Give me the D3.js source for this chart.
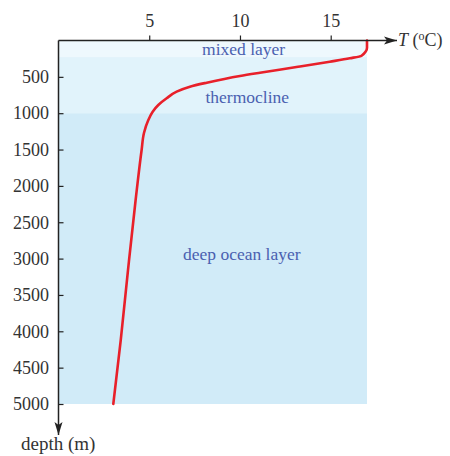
<!DOCTYPE html>
<html>
<head>
<meta charset="utf-8">
<script src="https://cdn.jsdelivr.net/npm/d3@7"></script>
<style>
  body { margin: 0; background: #fff; }
  text { font-family: "Liberation Serif", "Times New Roman", serif; }
</style>
</head>
<body>
<div id="chart"></div>
<script>
// temperature profile (°C vs depth in m)
const profileTemp  = [17.0, 17.0, 16.7, 16.05, 14.95, 13.2, 11.1, 10.0, 8.17, 7.24, 6.51, 5.96, 5.5, 5.19, 4.95, 4.71, 4.58, 4.25, 3.83, 3.43, 3.02];
const profileDepth = [0,    100,  209,  245,   292,   362,  443,  488,  580,  635,  704,  795,  887, 979,  1094, 1272, 1506, 2194, 3157, 4120, 5000];

// layers: [top depth, bottom depth]
const layerNames  = ["mixed layer", "thermocline", "deep ocean layer"];
const layerTop    = [0, 228, 1000];
const layerBottom = [228, 1000, 5000];
const layerLabelDepth = [115, 780, 2930];
const layerLabelTemp  = [10.2, 10.4, 10.1];

const tempTicks  = [5, 10, 15];
const depthTicks = [500, 1000, 1500, 2000, 2500, 3000, 3500, 4000, 4500, 5000];

const width = 450, height = 456;
const x = d3.scaleLinear().domain([0, 17]).range([58.5, 367]);
const y = d3.scaleLinear().domain([0, 5000]).range([40.5, 404]);

const svg = d3.select("#chart").append("svg")
    .attr("width", width)
    .attr("height", height);

const layerColors = ["#eef8fd", "#e1f3fb", "#d1ebf8"];

svg.selectAll("rect.layer")
    .data(layerNames)
    .enter()
    .append("rect")
    .attr("class", "layer")
    .attr("x", x(0))
    .attr("y", (d, i) => y(layerTop[i]))
    .attr("width", x(17) - x(0))
    .attr("height", (d, i) => y(layerBottom[i]) - y(layerTop[i]))
    .attr("fill", (d, i) => layerColors[i]);

svg.selectAll("text.layer")
    .data(layerNames)
    .enter()
    .append("text")
    .attr("class", "layer")
    .attr("x", (d, i) => x(layerLabelTemp[i]))
    .attr("y", (d, i) => y(layerLabelDepth[i]))
    .attr("dy", "0.35em")
    .attr("text-anchor", "middle")
    .attr("fill", "#4a60b0")
    .attr("font-size", 17.5)
    .text(d => d);

// temperature curve
const line = d3.line()
    .x(d => x(d[0]))
    .y(d => y(d[1]))
    .curve(d3.curveMonotoneY);

svg.append("path")
    .datum(profileTemp.map((t, i) => [t, profileDepth[i]]))
    .attr("d", line)
    .attr("fill", "none")
    .attr("stroke", "#e8202a")
    .attr("stroke-width", 2.6)
    .attr("stroke-linecap", "round");

// arrow markers
const defs = svg.append("defs");
defs.append("marker")
    .attr("id", "arrow")
    .attr("viewBox", "0 -5 13 10")
    .attr("refX", 13)
    .attr("refY", 0)
    .attr("markerWidth", 13)
    .attr("markerHeight", 10)
    .attr("markerUnits", "userSpaceOnUse")
    .attr("orient", "auto")
    .append("path")
    .attr("d", "M0,-4L13,0L0,4L3,0Z")
    .attr("fill", "#222");

// top axis
const xAxis = svg.append("g")
    .attr("transform", `translate(0,${y(0)})`)
    .call(d3.axisTop(x).tickValues(tempTicks).tickSize(5).tickSizeOuter(0).tickPadding(8.5));
xAxis.select(".domain").remove();
xAxis.selectAll("line").attr("stroke", "#222").attr("stroke-width", 1.2);
xAxis.selectAll("text").attr("font-size", 18).attr("fill", "#333")
    .style("font-family", "'Liberation Serif', serif");

svg.append("line")
    .attr("x1", x(0)).attr("y1", y(0))
    .attr("x2", 397).attr("y2", y(0))
    .attr("stroke", "#222")
    .attr("stroke-width", 1.5)
    .attr("marker-end", "url(#arrow)");

const tLabel = svg.append("text")
    .attr("x", 398)
    .attr("y", 46)
    .attr("font-size", 18)
    .attr("fill", "#333");
tLabel.append("tspan").attr("font-style", "italic").text("T");
tLabel.append("tspan").text(" (");
tLabel.append("tspan").attr("font-size", 12).attr("dy", -6).text("o");
tLabel.append("tspan").attr("dy", 6).text("C)");

// left axis
const yAxis = svg.append("g")
    .attr("transform", `translate(${x(0)},0)`)
    .call(d3.axisRight(y).tickValues(depthTicks).tickSize(5).tickSizeOuter(0).tickFormat(d3.format("d")));
yAxis.select(".domain").remove();
yAxis.selectAll("line").attr("stroke", "#222").attr("stroke-width", 1.2);
yAxis.selectAll("text")
    .attr("x", -9.5)
    .attr("text-anchor", "end")
    .attr("font-size", 18)
    .attr("fill", "#333")
    .style("font-family", "'Liberation Serif', serif");

svg.append("line")
    .attr("x1", x(0)).attr("y1", y(0))
    .attr("x2", x(0)).attr("y2", 435)
    .attr("stroke", "#222")
    .attr("stroke-width", 1.5)
    .attr("marker-end", "url(#arrow)");

svg.append("text")
    .attr("x", 21)
    .attr("y", 450)
    .attr("font-size", 19)
    .attr("fill", "#333")
    .text("depth (m)");
</script>
</body>
</html>
